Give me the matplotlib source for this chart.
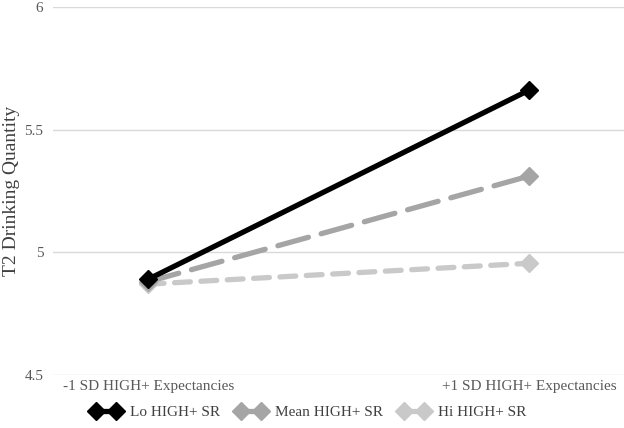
import matplotlib.pyplot as plt

plt.rcParams['font.family'] = ['Liberation Serif', 'DejaVu Serif']

# Data
x_labels = ['-1 SD HIGH+ Expectancies', '+1 SD HIGH+ Expectancies']
lo_sr = [4.89, 5.66]
mean_sr = [4.88, 5.31]
hi_sr = [4.87, 4.955]
y_ticks = [4.5, 5, 5.5, 6]

fig = plt.figure(figsize=(6.24, 4.28), dpi=100)
ax = fig.add_axes([0.085, 0.124, 0.915, 0.86])

x = [0, 1]
ax.plot(x, lo_sr, color='black', lw=3.8, marker='D', ms=9,
        solid_capstyle='round', label='Lo HIGH+ SR', zorder=5)
ax.plot(x, mean_sr, color='#a5a5a5', lw=3.8, marker='D', ms=9,
        dashes=(6, 2.5), dash_capstyle='round', label='Mean HIGH+ SR', zorder=4)
ax.plot(x, hi_sr, color='#c9c9c9', lw=3.8, marker='D', ms=9,
        dashes=(3, 2), dash_capstyle='round', label='Hi HIGH+ SR', zorder=3)

ax.set_xlim(-0.25, 1.25)
ax.set_ylim(4.5, 6)
ax.set_yticks(y_ticks)
ax.set_yticklabels(['4.5', '5', '5.5', '6'])
ax.set_xticks(x)
ax.set_xticklabels(x_labels)
ax.grid(axis='y', color='#d9d9d9', lw=1)
ax.set_axisbelow(True)
for s in ax.spines.values():
    s.set_visible(False)
ax.tick_params(length=0, labelsize=11, colors='#595959', pad=4)
ax.tick_params(axis='y', pad=7)
ax.set_ylabel('T2 Drinking Quantity', fontsize=14, color='#404040')
ax.yaxis.set_label_coords(-0.058, 0.5)

ax.legend(loc='upper center', bbox_to_anchor=(0.448, -0.045), ncol=3, frameon=False,
          fontsize=11, numpoints=2, handlelength=1.9, columnspacing=1.1,
          handletextpad=0.6, labelcolor='#404040')

fig.savefig('out.png', dpi=100)
